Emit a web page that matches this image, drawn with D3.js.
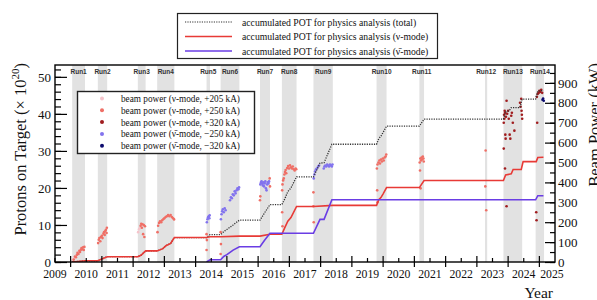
<!DOCTYPE html>
<html lang="en">
<head>
<meta charset="utf-8">
<title>Accumulated POT and beam power</title>
<script src="https://cdn.jsdelivr.net/npm/d3@7"></script>
<style>
  body { margin: 0; background: #fff; }
  text { font-family: "Liberation Serif", "Times New Roman", serif; fill: #111; }
</style>
</head>
<body>
<script>

// run periods (decimal years)
var runNames = ["Run1","Run2","Run3","Run4","Run5","Run6","Run7","Run8","Run9","Run10","Run11","Run12","Run13","Run14"];
var runStart = [2010.05, 2010.87, 2012.15, 2012.77, 2014.35, 2014.80, 2016.06, 2016.76, 2017.77, 2019.79, 2021.16, 2023.26, 2023.85, 2024.88];
var runEnd   = [2010.46, 2011.17, 2012.40, 2013.32, 2014.46, 2015.40, 2016.38, 2017.23, 2018.39, 2020.11, 2021.31, 2023.33, 2024.45, 2025.15];

// accumulated POT (x 10^20)
var potTotal = [[2010.05,0],[2010.46,0.33],[2010.87,0.33],[2011.17,1.43],[2012.15,1.43],[2012.25,1.8],[2012.40,3.0],
  [2012.77,3.0],[2012.95,3.6],[2013.05,4.4],[2013.2,5.0],[2013.32,6.6],[2014.35,6.6],[2014.46,7.4],[2014.80,7.4],
  [2014.9,8.2],[2015.0,8.8],[2015.1,9.4],[2015.2,10.0],[2015.40,11.3],[2016.06,11.3],[2016.2,13.2],[2016.38,15.5],
  [2016.76,15.5],[2016.85,17.0],[2016.95,19.0],[2017.05,20.0],[2017.23,23.0],[2017.77,23.0],[2017.98,26.7],
  [2018.11,26.8],[2018.36,31.8],[2019.79,31.8],[2019.86,33.3],[2019.93,34.0],[2020.0,35.0],[2020.11,36.7],
  [2021.16,36.7],[2021.31,38.6],[2023.85,38.6],[2023.92,40.5],[2024.04,40.9],[2024.1,41.7],[2024.38,41.7],
  [2024.45,44.0],[2024.88,44.0],[2024.95,46.2],[2025.13,46.3]];
var potNu = [[2010.05,0],[2010.46,0.33],[2010.87,0.33],[2011.17,1.43],[2012.15,1.43],[2012.25,1.8],[2012.40,3.0],
  [2012.77,3.0],[2012.95,3.6],[2013.05,4.4],[2013.2,5.0],[2013.32,6.6],[2014.35,6.6],[2014.46,6.8],[2014.80,6.8],
  [2015.40,7.0],[2016.06,7.0],[2016.38,7.5],[2016.76,7.5],[2016.85,9.2],[2016.95,11.0],[2017.05,12.0],[2017.23,15.0],
  [2017.77,15.0],[2018.39,15.3],[2019.79,15.3],[2019.86,16.8],[2019.93,17.4],[2020.0,18.4],[2020.11,20.1],
  [2021.16,20.1],[2021.31,22.0],[2023.85,22.0],[2023.92,23.5],[2024.1,23.8],[2024.16,25.0],[2024.42,25.0],
  [2024.48,27.1],[2024.9,27.1],[2024.95,28.2],[2025.13,28.3]];
var potAnu = [[2014.35,0],[2014.46,0.6],[2014.80,0.6],[2014.9,1.5],[2015.0,2.0],[2015.1,2.6],[2015.2,3.2],[2015.40,4.1],
  [2016.06,4.1],[2016.2,5.8],[2016.38,7.75],[2017.77,7.75],[2017.98,11.5],[2018.11,11.5],[2018.36,16.8],
  [2024.88,16.8],[2024.95,17.9],[2025.13,17.9]];

// beam power (kW)
var powerNu205 = [[2010.06,8],[2010.09,14],[2010.12,22],[2012.16,150],[2012.19,165],[2012.22,172]];
var powerNu250 = [[2010.1,12],[2010.14,28],[2010.17,24],[2010.2,36],[2010.22,46],[2010.25,40],[2010.28,56],[2010.3,50],
  [2010.33,62],[2010.35,70],[2010.38,64],[2010.4,74],[2010.42,60],[2010.44,76],
  [2010.88,95],[2010.9,112],[2010.92,120],[2010.95,104],[2010.97,126],[2011.0,132],[2011.02,120],[2011.05,142],
  [2011.07,150],[2011.09,136],[2011.11,156],[2011.13,162],[2011.15,146],[2011.16,172],
  [2012.24,182],[2012.26,192],[2012.28,172],[2012.3,190],[2012.32,140],[2012.34,186],[2012.36,126],[2012.38,180],
  [2012.78,150],[2012.8,182],[2012.83,196],[2012.86,205],[2012.9,200],[2012.93,210],[2012.97,216],[2013.0,220],
  [2013.04,226],[2013.08,230],[2013.12,236],[2013.16,230],[2013.2,236],[2013.24,226],[2013.28,220],[2013.31,214],
  [2014.35,140],[2014.36,110],[2014.35,60],[2014.8,150],[2014.81,90],[2014.8,40],
  [2016.37,420],[2016.38,380],[2016.06,310],[2016.07,330],
  [2016.77,360],[2016.78,390],[2016.8,410],[2016.82,420],[2016.84,440],[2016.86,452],[2016.88,462],[2016.9,446],
  [2016.93,472],[2016.96,482],[2016.99,470],[2017.02,486],[2017.05,476],[2017.08,470],[2017.11,480],[2017.14,466],
  [2017.17,460],[2017.2,470],[2017.22,466],[2016.77,250],[2016.78,180],
  [2017.77,350],[2017.77,280],[2017.78,200],
  [2019.8,470],[2019.82,490],[2019.85,500],[2019.88,510],[2019.9,495],[2019.93,515],[2019.96,505],[2019.99,520],
  [2020.02,510],[2020.05,525],[2020.08,530],[2020.1,540],[2019.81,360],[2019.82,300],
  [2021.17,500],[2021.19,520],[2021.21,510],[2021.23,525],[2021.25,515],[2021.27,530],[2021.29,520],[2021.3,505],
  [2021.18,460],[2021.2,370],
  [2023.28,560],[2023.3,260],[2023.27,380]];
var powerNu320 = [[2023.86,700],[2023.87,740],[2023.88,720],[2023.89,760],[2023.9,750],[2023.91,640],[2023.92,620],
  [2023.93,730],[2023.95,810],[2023.97,745],[2024.0,760],[2024.02,720],[2024.05,640],[2024.07,620],[2024.1,735],
  [2024.12,750],[2024.15,700],[2024.38,800],[2024.4,780],[2024.42,820],[2024.43,760],[2024.44,740],[2024.45,720],
  [2023.86,570],[2023.9,470],[2023.95,280],[2024.2,660],
  [2024.92,830],[2024.95,845],[2024.98,850],[2025.0,860],[2025.03,855],[2025.06,865],[2025.09,850],
  [2024.93,700],[2024.9,250],[2024.91,210]];
var powerAnu250 = [[2014.36,200],[2014.38,215],[2014.4,225],[2014.42,230],[2014.44,220],[2014.45,235],
  [2014.81,215],[2014.83,240],[2014.85,255],[2014.87,265],[2014.9,250],[2014.93,270],[2014.96,260],
  [2015.1,310],[2015.13,325],[2015.16,320],[2015.19,340],[2015.22,335],[2015.25,355],[2015.28,345],[2015.31,360],
  [2015.34,370],[2015.37,365],[2015.39,375],
  [2016.07,390],[2016.09,400],[2016.11,405],[2016.13,395],[2016.15,385],[2016.17,400],[2016.19,380],[2016.21,395],
  [2016.23,405],[2016.25,370],[2016.27,360],[2016.29,390],[2016.31,400],[2016.33,395],[2016.35,405],
  [2017.78,420],[2017.8,440],[2017.82,455],[2017.85,465],[2017.88,470],[2017.92,480],[2017.95,485],
  [2018.1,470],[2018.12,480],[2018.15,485],[2018.18,480],[2018.21,490],[2018.24,485],[2018.27,480],[2018.3,490],
  [2018.33,485],[2018.36,480],[2018.38,490]];
var powerAnu320 = [[2025.1,815],[2025.12,822],[2025.14,810]];

// tick labels
var yearLabels = [2009,2010,2011,2012,2013,2014,2015,2016,2017,2018,2019,2020,2021,2022,2023,2024,2025];
var potTicks = [0,10,20,30,40,50];
var powerTicks = [0,100,200,300,400,500,600,700,800,900];

var w = 597, h = 300;
var pL = 55, pR = 555, pT = 65, pB = 262;

var x = d3.scaleLinear().domain([2009.5, 2025.5]).range([pL, pR]);
var y = d3.scaleLinear().domain([0, 53.2]).range([pB, pT]);
var yP = d3.scaleLinear().domain([0, 990]).range([pB, pT]);

var svg = d3.select("body").append("svg").attr("width", w).attr("height", h);

// the reference text is a little narrower than Liberation Serif
function squeeze(sel, k) {
  sel.each(function() {
    var len = this.getComputedTextLength();
    d3.select(this).attr("textLength", len * k).attr("lengthAdjust", "spacingAndGlyphs");
  });
}

svg.append("clipPath").attr("id", "plot")
   .append("rect").attr("x", pL).attr("y", pT).attr("width", pR - pL).attr("height", pB - pT);

var plot = svg.append("g").attr("clip-path", "url(#plot)");

// run bands
plot.selectAll("rect.run")
    .data(runNames)
    .enter()
    .append("rect")
    .attr("class", "run")
    .attr("x", function(d, i) { return x(runStart[i]); })
    .attr("y", pT)
    .attr("width", function(d, i) { return x(runEnd[i]) - x(runStart[i]); })
    .attr("height", pB - pT)
    .attr("fill", "#e2e2e2");

svg.selectAll("text.run")
   .data(runNames)
   .enter()
   .append("text")
   .attr("class", "run")
   .attr("x", function(d, i) { return x((runStart[i] + runEnd[i]) / 2); })
   .attr("y", 74)
   .attr("text-anchor", "middle")
   .style("font-family", "'Liberation Sans', Arial, sans-serif")
   .style("font-weight", "bold")
   .style("font-size", "6.5px")
   .style("fill", "#333")
   .text(function(d) { return d; });

// beam power dots
var dotSets = [
  { data: powerNu205, color: "#f5c4cb" },
  { data: powerNu250, color: "#ef6f66" },
  { data: powerAnu250, color: "#8273ee" },
  { data: powerNu320, color: "#a01c1e" },
  { data: powerAnu320, color: "#0d0b6e" }
];
dotSets.forEach(function(s) {
  plot.append("g").selectAll("circle")
      .data(s.data)
      .enter()
      .append("circle")
      .attr("cx", function(d) { return x(d[0]); })
      .attr("cy", function(d) { return yP(d[1]); })
      .attr("r", 1.3)
      .attr("fill", s.color);
});

// accumulated POT lines
var line = d3.line()
  .x(function(d) { return x(d[0]); })
  .y(function(d) { return y(d[1]); });

plot.append("path").datum(potTotal)
    .attr("d", line).attr("fill", "none")
    .attr("stroke", "#333").attr("stroke-width", 1.3).attr("stroke-dasharray", "1.2,1.2");
plot.append("path").datum(potNu)
    .attr("d", line).attr("fill", "none")
    .attr("stroke", "#e83a36").attr("stroke-width", 1.6);
plot.append("path").datum(potAnu)
    .attr("d", line).attr("fill", "none")
    .attr("stroke", "#6a3de4").attr("stroke-width", 1.6);

// frame
svg.append("rect")
   .attr("x", pL).attr("y", pT)
   .attr("width", pR - pL).attr("height", pB - pT)
   .attr("fill", "none").attr("stroke", "#000").attr("stroke-width", 1.4);

// left axis
var gl = svg.append("g").attr("transform", "translate(" + pL + ",0)");
gl.append("g").call(d3.axisLeft(y).tickValues(d3.range(0, 53, 2)).tickSize(-6).tickFormat(""));
gl.append("g").call(d3.axisLeft(y).tickValues(potTicks).tickSize(-12).tickPadding(4));
gl.selectAll(".domain").remove();
gl.selectAll("line").attr("stroke", "#000").attr("stroke-width", 1.2);
gl.selectAll("text").style("font-family", "'Liberation Serif', serif").style("font-size", "13px").attr("fill", "#111");

// right axis
var gr = svg.append("g").attr("transform", "translate(" + pR + ",0)");
gr.append("g").call(d3.axisRight(yP).tickValues(d3.range(0, 990, 50)).tickSize(-5).tickFormat(""));
gr.append("g").call(d3.axisRight(yP).tickValues(powerTicks).tickSize(-10).tickPadding(3));
gr.selectAll(".domain").remove();
gr.selectAll("line").attr("stroke", "#000").attr("stroke-width", 1.2);
gr.selectAll("text").style("font-family", "'Liberation Serif', serif").style("font-size", "13px").attr("fill", "#111");

// bottom axis: year ticks cross the axis, half-year ticks inside
var gb = svg.append("g").attr("transform", "translate(0," + pB + ")");
gb.selectAll("line.major")
  .data(yearLabels.slice(1))
  .enter()
  .append("line")
  .attr("class", "major")
  .attr("x1", function(d) { return x(d); }).attr("x2", function(d) { return x(d); })
  .attr("y1", -6).attr("y2", 5)
  .attr("stroke", "#000").attr("stroke-width", 1.2);
gb.selectAll("line.minor")
  .data(yearLabels.slice(0, -1))
  .enter()
  .append("line")
  .attr("class", "minor")
  .attr("x1", function(d) { return x(d + 0.5); }).attr("x2", function(d) { return x(d + 0.5); })
  .attr("y1", -4).attr("y2", 0)
  .attr("stroke", "#000").attr("stroke-width", 1.2);
var yl = gb.selectAll("text")
  .data(yearLabels)
  .enter()
  .append("text")
  .attr("x", function(d) { return Math.min(x(d + 0.5), 552); })
  .attr("y", 16)
  .attr("text-anchor", "middle")
  .style("font-size", "13.5px")
  .text(function(d) { return d; });
squeeze(yl, 0.87);

// axis titles
var lt = svg.append("text")
   .attr("transform", "translate(26,63) rotate(-90)")
   .attr("text-anchor", "end")
   .style("font-size", "16.5px");
lt.append("tspan").text("Protons on Target (\u00d7 10");
lt.append("tspan").attr("dy", -7).style("font-size", "11px").text("20");
lt.append("tspan").attr("dy", 7).text(")");

svg.append("text")
   .attr("transform", "translate(600,63) rotate(-90)")
   .attr("text-anchor", "end")
   .style("font-size", "16.5px")
   .text("Beam Power (kW)");

svg.append("text")
   .attr("x", 553).attr("y", 298)
   .attr("text-anchor", "end")
   .style("font-size", "15.5px")
   .text("Year");

// legend for the lines
var leg1 = svg.append("g");
leg1.append("rect").attr("x", 177.5).attr("y", 13.5).attr("width", 260).attr("height", 45)
    .attr("fill", "#fff").attr("stroke", "#222").attr("stroke-width", 1.2);
var leg1Items = [
  { label: "accumulated POT for physics analysis (total)", color: "#333", dash: "1.2,1.2" },
  { label: "accumulated POT for physics analysis (\u03bd-mode)", color: "#e83a36", dash: null },
  { label: "accumulated POT for physics analysis (\u03bd\u0304-mode)", color: "#6a3de4", dash: null }
];
leg1Items.forEach(function(d, i) {
  var yy = 22 + i * 14.5;
  leg1.append("line").attr("x1", 185).attr("x2", 232).attr("y1", yy).attr("y2", yy)
      .attr("stroke", d.color).attr("stroke-width", d.dash ? 1.2 : 1.6)
      .attr("stroke-dasharray", d.dash);
  var t = leg1.append("text").attr("x", 242).attr("y", yy + 3.5)
      .style("font-size", "11px").text(d.label);
  squeeze(t, 0.88);
});

// legend for the beam power dots
var leg2 = svg.append("g");
leg2.append("rect").attr("x", 77.5).attr("y", 91.5).attr("width", 177).attr("height", 62)
    .attr("fill", "#fff").attr("stroke", "#222").attr("stroke-width", 1.4);
var leg2Items = [
  { label: "beam power (\u03bd-mode, +205 kA)", color: "#f5c4cb" },
  { label: "beam power (\u03bd-mode, +250 kA)", color: "#ef6f66" },
  { label: "beam power (\u03bd-mode, +320 kA)", color: "#a01c1e" },
  { label: "beam power (\u03bd\u0304-mode, \u2212250 kA)", color: "#8273ee" },
  { label: "beam power (\u03bd\u0304-mode, \u2212320 kA)", color: "#0d0b6e" }
];
leg2Items.forEach(function(d, i) {
  var yy = 98.5 + i * 11.8;
  leg2.append("circle").attr("cx", 102).attr("cy", yy).attr("r", 2).attr("fill", d.color);
  var t = leg2.append("text").attr("x", 121).attr("y", yy + 3.5)
      .style("font-size", "10.5px").text(d.label);
  squeeze(t, 0.88);
});

</script>
</body>
</html>
